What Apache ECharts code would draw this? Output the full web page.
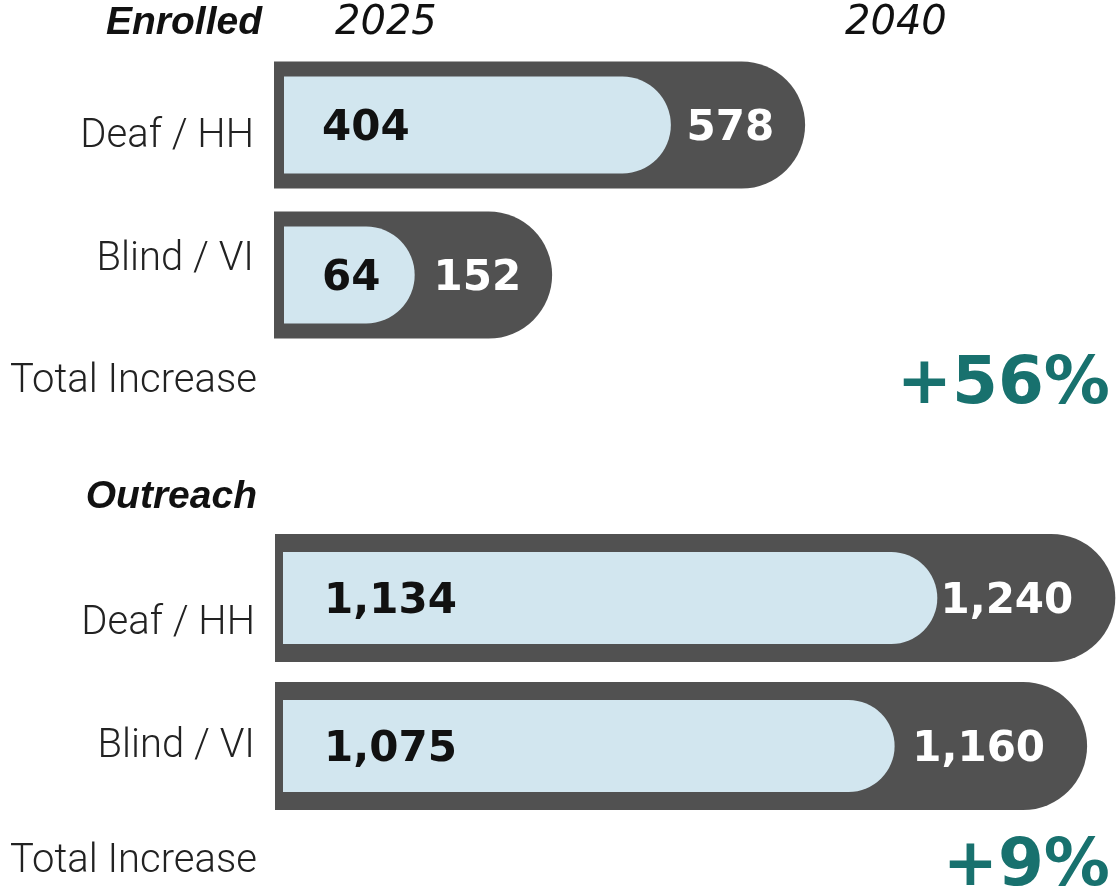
<!DOCTYPE html>
<html>
<head>
<meta charset="utf-8">
<script src="https://cdn.jsdelivr.net/npm/echarts@6/dist/echarts.min.js"></script>
<style>
  html, body { margin: 0; padding: 0; background: #ffffff; }
  #chart { width: 1117px; height: 893px; }
</style>
</head>
<body>
<div id="chart"></div>
<script>
// Student counts by program, 2025 versus projected 2040
const groups = ['Deaf / HH', 'Blind / VI'];
const enrolled2025 = [404, 64];
const enrolled2040 = [578, 152];
const outreach2025 = [1134, 1075];
const outreach2040 = [1240, 1160];
const yearLabels = ['2025', '2040'];
const sectionTitles = ['Enrolled', 'Outreach'];
const increaseLabel = 'Total Increase';

const DARK = '#515151';
const LIGHT = '#d2e6ef';
const TEAL = '#18716e';
const INK = '#111111';
const NUM_FONT = 'DejaVu Sans';

const sum = a => a.reduce((s, v) => s + v, 0);
const pctIncrease = (from, to) => '+' + Math.round((sum(to) - sum(from)) / sum(from) * 100) + '%';
const fmt = v => Number(v).toLocaleString('en-US');

const chart = echarts.init(document.getElementById('chart'), null, { renderer: 'canvas' });

// Each panel has a dark layer (2040) and an inset light layer (2025) on its own log axis
const grids = [
  { left: 274, right: 0, top: 50, height: 300 },   // enrolled, 2040
  { left: 284, right: 0, top: 50, height: 300 },   // enrolled, 2025
  { left: 275, right: 0, top: 524, height: 296 },  // outreach, 2040
  { left: 283, right: 0, top: 524, height: 296 }   // outreach, 2025
];
const xRanges = [[35, 3000], [25, 10000], [170, 1245], [500, 1420]];

// vertical nudge (px) of each row name relative to its bar, per panel
const rowNudge = [[12, -15], null, [26, 1], null];

const xAxes = xRanges.map((r, i) => ({
  type: 'log', gridIndex: i, min: r[0], max: r[1], show: false
}));

function rowLabelRich(nudges) {
  const rich = {};
  nudges.forEach((d, k) => {
    rich['r' + k] = {
      fontFamily: 'Roboto', fontWeight: 300, fontSize: 40, color: '#222222',
      padding: d >= 0 ? [2 * d, 0, 0, 0] : [0, 0, -2 * d, 0]
    };
  });
  return rich;
}

const yAxes = grids.map((g, i) => ({
  type: 'category', gridIndex: i, data: groups, inverse: true,
  axisLine: { show: false }, axisTick: { show: false }, splitLine: { show: false },
  axisLabel: rowNudge[i] ? {
    show: true, margin: 20,
    formatter: (v, k) => '{r' + k + '|' + v + '}',
    rich: rowLabelRich(rowNudge[i])
  } : { show: false }
}));

function barSeries(idx, values, width, fill, labelColor, pos, dist) {
  return {
    type: 'bar', xAxisIndex: idx, yAxisIndex: idx, data: values,
    barWidth: width, clip: true, silent: true, animation: false,
    itemStyle: { color: fill, borderRadius: [0, width / 2, width / 2, 0] },
    label: {
      show: true, position: pos, distance: dist, offset: [0, 4], color: labelColor,
      fontFamily: NUM_FONT, fontWeight: 'bold', fontSize: 42,
      formatter: p => fmt(p.value)
    }
  };
}

const series = [
  barSeries(0, enrolled2040, 127, DARK, '#ffffff', 'insideRight', 31),
  barSeries(1, enrolled2025, 97, LIGHT, INK, 'insideLeft', 38),
  barSeries(2, outreach2040, 128, DARK, '#ffffff', 'insideRight', 42),
  barSeries(3, outreach2025, 92, LIGHT, INK, 'insideLeft', 41)
];

function txt(text, x, y, font, fill, align) {
  return {
    type: 'text', x: x, y: y, silent: true,
    style: { text: text, font: font, fill: fill, align: align, verticalAlign: 'middle' }
  };
}

const titleFont = 'italic bold 39px "Liberation Sans"';
const yearFont = 'oblique 40px "DejaVu Sans"';
const plainFont = '300 40px Roboto';
const pctFont = 'bold 66px "DejaVu Sans"';

const graphic = [
  txt(sectionTitles[0], 262, 23, titleFont, INK, 'right'),
  txt(yearLabels[0], 335, 24, yearFont, INK, 'left'),
  txt(yearLabels[1], 845, 24, yearFont, INK, 'left'),
  txt(increaseLabel, 10, 382, plainFont, '#222222', 'left'),
  txt(pctIncrease(enrolled2025, enrolled2040), 1110, 386, pctFont, TEAL, 'right'),
  txt(sectionTitles[1], 257, 497, titleFont, INK, 'right'),
  txt(increaseLabel, 10, 862, plainFont, '#222222', 'left'),
  txt(pctIncrease(outreach2025, outreach2040), 1110, 868, pctFont, TEAL, 'right')
];

chart.setOption({
  backgroundColor: '#ffffff',
  animation: false,
  grid: grids,
  xAxis: xAxes,
  yAxis: yAxes,
  series: series,
  graphic: graphic
});
</script>
</body>
</html>
